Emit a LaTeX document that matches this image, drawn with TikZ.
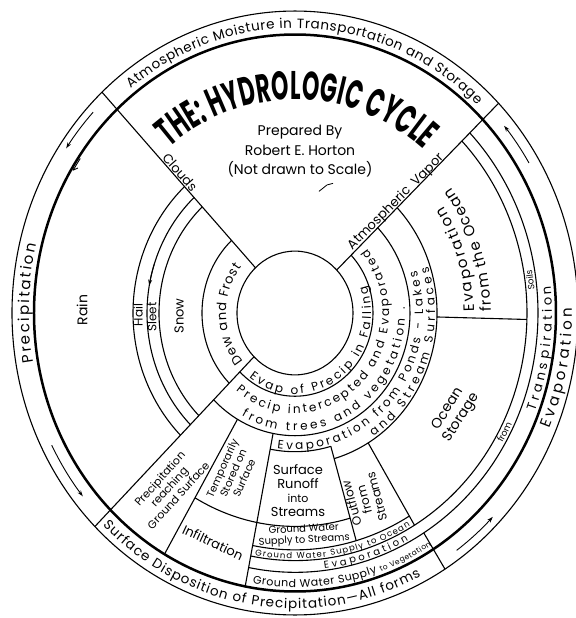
\documentclass[tikz,border=0pt]{standalone}
\usepackage{fontspec}
\setmainfont{Poppins}
\newfontfamily\titlefont[FakeStretch=0.55]{Poppins}
\usetikzlibrary{decorations.text,arrows.meta}

\tikzset{
  thin ring/.style={line width=1.1pt},
  thick ring/.style={line width=2.5pt},
  lbl/.style 2 args={inner sep=0pt, align=center, font=\fontsize{#1}{#2}\selectfont},
  bandtext/.style n args={3}{decorate, decoration={text along path, text align=#1,
      text={|\fontsize{#2}{#2}\selectfont|#3}}},
  flow/.style={-{Stealth[length=6pt,width=4pt]}, line width=0.9pt},
}

\begin{document}
\begin{tikzpicture}[x=1pt, y=1.067pt]
\useasboundingbox (-295,-285.85) rectangle (281,293.35);

% rings
\draw[thin ring] (0,0) circle (283);
\draw[thick ring] (0,0) circle (261);
\draw[thin ring] (0,0) circle (58);

% radial dividers
\draw[thin ring] (133:58) -- (133:283);
\draw[thin ring] (225:58) -- (225:283);
\draw[thin ring] (44:58) -- (44:283);
\draw[thin ring] (240:115) -- (240:261);
\draw[thin ring] (259:115) -- (259:261);
\draw[thin ring] (286:130) -- (286:222);
\draw[thin ring] (301:142) -- (301:232);
\draw[thin ring] (302:243) -- (302:283);
\draw[thin ring] (-1.5:142) -- (-1.5:232);

% arcs
\foreach \r in {93,136,148,162}
  \draw[thin ring] (133:\r) arc[start angle=133, end angle=225, radius=\r];
\foreach \r in {78,115}
  \draw[thin ring] (225:\r) arc[start angle=225, end angle=404, radius=\r];
\draw[thin ring] (286:142) arc[start angle=286, end angle=404, radius=142];
\draw[thin ring] (259:130) arc[start angle=259, end angle=286, radius=130];
\draw[thin ring] (240:200) arc[start angle=240, end angle=286, radius=200];
\draw[thin ring] (259:222) arc[start angle=259, end angle=301, radius=222];
\foreach \r in {232,243}
  \draw[thin ring] (259:\r) arc[start angle=259, end angle=404, radius=\r];

% flow arrows
\draw[flow] (137:276) arc[start angle=137, end angle=146, radius=276];
\draw[flow] (207:273) arc[start angle=207, end angle=219, radius=273];
\draw[flow] (-54:275) arc[start angle=-54, end angle=-44, radius=275];
\draw[flow] (31:273) arc[start angle=31, end angle=40, radius=273];
\draw[flow] (162:148) arc[start angle=162, end angle=170, radius=148];
\draw[-{Straight Barb[length=4pt,width=6pt]}, line width=0.9pt]
  (146:259) arc[start angle=146, end angle=149, radius=259];

% title
\path[decorate, decoration={text along path, text align=fit to path,
  text={|\titlefont\bfseries\fontsize{40}{40}\selectfont|THE: HYDROLOGIC CYCLE}}]
  (129:200) arc[start angle=129, end angle=50, radius=200];
\node[lbl={14}{19.5}] (author) at (5,151.5) {Prepared By\\Robert E. Horton\\(Not drawn to Scale)};
\draw[line width=0.8pt] (24,114) -- (32,120) -- (38,121.5);

% outer ring texts
\path[bandtext={fit to path}{13.5}{Atmospheric Moisture in Transportation and Storage}]
  (128:267) arc[start angle=128, end angle=47, radius=267];
\path[bandtext={fit to path}{15}{Precipitation}]
  (190:266) arc[start angle=190, end angle=166, radius=266];
\path[bandtext={fit to path}{13.5}{Surface Disposition of Precipitation—All forms}]
  (226:277) arc[start angle=226, end angle=297, radius=277];
\path[bandtext={fit to path}{15}{Evaporation}]
  (-23:277) arc[start angle=-23, end angle=1, radius=277];

% right bands
\path[bandtext={fit to path}{13}{Transpiration}]
  (-21:257) arc[start angle=-21, end angle=5.7, radius=257];
\path[bandtext={center}{9}{from}]
  (-33:240.5) arc[start angle=-33, end angle=-23, radius=240.5];
\path[bandtext={center}{9}{Soils}]
  (2:240.5) arc[start angle=2, end angle=13, radius=240.5];
\path[bandtext={fit to path}{15}{Evaporation}]
  (0.5:179) arc[start angle=0.5, end angle=34, radius=179];
\path[bandtext={fit to path}{15}{from the Ocean}]
  (0.5:196) arc[start angle=0.5, end angle=37, radius=196];

% bottom bands
\path[bandtext={fit to path}{11}{Ground Water Supply |\fontsize{7.5}{7.5}\selectfont|to Vegetation}]
  (260.5:257) arc[start angle=260.5, end angle=302, radius=257];
\path[bandtext={fit to path}{10}{Evaporation}]
  (277:241.5) arc[start angle=277, end angle=298, radius=241.5];
\path[bandtext={fit to path}{8.5}{Ground Water Supply to Ocean}]
  (260:230.5) arc[start angle=260, end angle=300, radius=230.5];

% inner bands
\path[bandtext={fit to path}{12}{Evap of Precip in Falling}]
  (233:76) arc[start angle=233, end angle=380, radius=76];
\path[bandtext={fit to path}{12}{Precip intercepted and Evaporated}]
  (231:94) arc[start angle=231, end angle=400, radius=94];
\path[bandtext={fit to path}{12}{from trees and vegetation .}]
  (241:110) arc[start angle=241, end angle=363, radius=110];
\path[bandtext={fit to path}{12}{Evaporation from Ponds - Lakes}]
  (262:128) arc[start angle=262, end angle=378, radius=128];
\path[bandtext={fit to path}{12}{and Stream Surfaces}]
  (304:140) arc[start angle=304, end angle=378, radius=140];
\path[bandtext={fit to path}{13}{Dew and Frost}]
  (221:69) arc[start angle=221, end angle=141, radius=69];

% straight labels
\node[lbl={13}{15}, rotate=-49] (clouds) at (-115,132) {Clouds};
\node[lbl={13}{15}, rotate=45] (vapor) at (101,104) {Atmospheric\ \ Vapor};
\node[lbl={14}{16}, rotate=90] (rain) at (-213,2.8) {Rain};
\node[lbl={12}{14}, rotate=90] (hail) at (-157,-1.9) {Hail};
\node[lbl={12}{14}, rotate=90] (sleet) at (-143,-3.7) {Sleet};
\node[lbl={13}{15}, rotate=90] (snow) at (-116,-2.8) {Snow};
\node[lbl={14}{16}, rotate=58] (storage) at (160,-94) {Ocean\\Storage};
\node[lbl={13}{14}] (runoff) at (3,-166) {Surface\\Runoff\\{\fontsize{11}{12}\selectfont into}\\Streams};
\node[lbl={12}{13}, rotate=105] (outflow) at (69,-175) {Outflow\\from\\Streams};
\node[lbl={10.5}{12}, rotate=66] (stored) at (-62,-150) {Temporarily\\Stored on\\Surface};
\node[lbl={11}{12.5}, rotate=48] (reaching) at (-126,-163) {Precipitation\\reaching\\Ground Surface};
\node[lbl={13}{15}, rotate=-25] (infil) at (-82,-215) {Infiltration};
\node[lbl={10}{11}, rotate=3] (gwstreams) at (9,-208) {Ground Water\\Supply to Streams};
\end{tikzpicture}
\end{document}
